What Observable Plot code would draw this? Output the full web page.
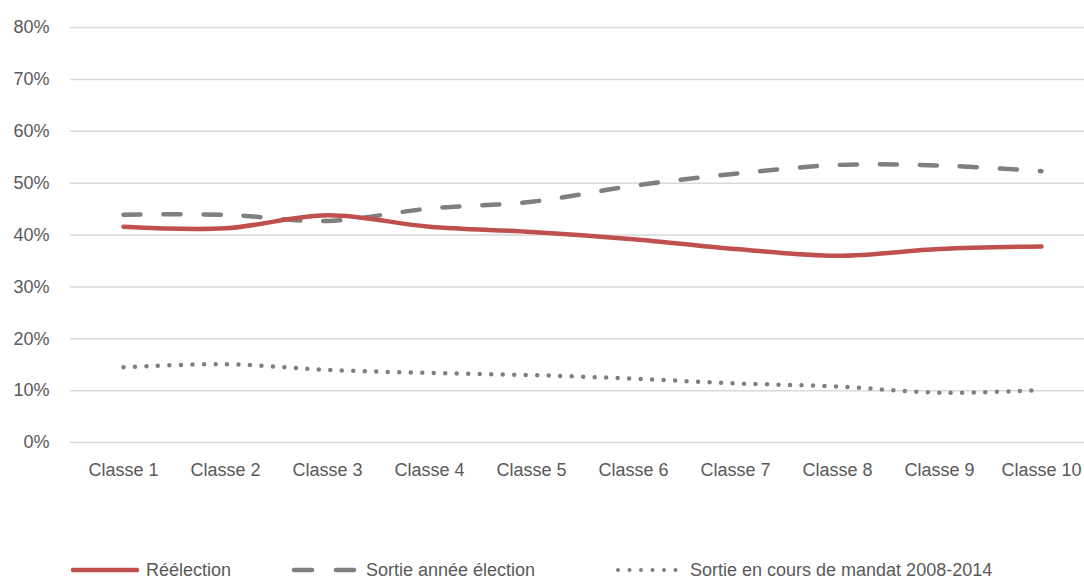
<!DOCTYPE html>
<html>
<head>
<meta charset="utf-8">
<script src="https://cdn.jsdelivr.net/npm/d3@7"></script>
<script src="https://cdn.jsdelivr.net/npm/@observablehq/plot@0.6"></script>
<style>
  body { margin: 0; background: #fff; font-family: "Liberation Sans", Arial, sans-serif; }
  #chart { position: relative; width: 1084px; height: 579px; overflow: hidden; }
  #legend { position: absolute; top: 558px; left: 0; width: 1084px; height: 24px; font-size: 18px; color: #595959; }
  .item { position: absolute; top: 0; display: flex; align-items: center; height: 24px; white-space: nowrap; }
  .item svg { margin-right: 6px; }
</style>
</head>
<body>
<div id="chart"></div>
<script>
const categories = ["Classe 1","Classe 2","Classe 3","Classe 4","Classe 5","Classe 6","Classe 7","Classe 8","Classe 9","Classe 10"];
const reelection = [0.416, 0.413, 0.438, 0.416, 0.406, 0.392, 0.373, 0.360, 0.373, 0.378];
const sortieAnnee = [0.439, 0.439, 0.427, 0.451, 0.464, 0.495, 0.518, 0.535, 0.534, 0.523];
const sortieMandat = [0.145, 0.151, 0.140, 0.134, 0.130, 0.123, 0.114, 0.108, 0.096, 0.101];
const yTicks = [0, 0.1, 0.2, 0.3, 0.4, 0.5, 0.6, 0.7, 0.8];
const seriesNames = ["Réélection", "Sortie année élection", "Sortie en cours de mandat 2008-2014"];

const toRows = (vals) => categories.map((c, i) => ({cat: c, v: vals[i]}));

const chart = Plot.plot({
  width: 1084,
  height: 490,
  marginLeft: 70,
  marginRight: 0,
  marginTop: 27,
  marginBottom: 48,
  style: {fontFamily: "'Liberation Sans', Arial, sans-serif", fontSize: "18px", color: "#595959", background: "#fff"},
  x: {type: "point", domain: categories, range: [120.5, 1043.5], padding: 0, label: null, tickSize: 0, tickPadding: 21},
  y: {domain: [0, 0.8], ticks: yTicks, tickFormat: d3.format(".0%"), label: null, tickSize: 0, tickPadding: 21},
  marks: [
    Plot.ruleY(yTicks, {stroke: "#d9d9d9", strokeWidth: 1.5}),
    Plot.axisX({tickSize: 0, tickPadding: 21, fill: "#595959"}),
    Plot.axisY({ticks: yTicks, tickFormat: d3.format(".0%"), tickSize: 0, tickPadding: 21, fill: "#595959"}),
    Plot.line(toRows(sortieMandat), {x: "cat", y: "v", stroke: "#7f7f7f", strokeWidth: 4.5, strokeDasharray: "0,11.5", strokeLinecap: "round", curve: "catmull-rom"}),
    Plot.line(toRows(sortieAnnee), {x: "cat", y: "v", stroke: "#7f7f7f", strokeWidth: 4.5, strokeDasharray: "17,23", strokeLinecap: "round", curve: "catmull-rom"}),
    Plot.line(toRows(reelection), {x: "cat", y: "v", stroke: "#c0504d", strokeWidth: 4.5, strokeLinecap: "round", curve: "catmull-rom"})
  ]
});
document.getElementById("chart").appendChild(chart);

const legend = document.createElement("div");
legend.id = "legend";
legend.innerHTML = `
  <div class="item" style="left:70px"><svg width="70" height="10"><line x1="3" y1="5" x2="67" y2="5" stroke="#c0504d" stroke-width="4.5" stroke-linecap="round"/></svg>${seriesNames[0]}</div>
  <div class="item" style="left:290px"><svg width="70" height="10"><line x1="4" y1="5" x2="67" y2="5" stroke="#7f7f7f" stroke-width="4.5" stroke-dasharray="18,24" stroke-linecap="round"/></svg>${seriesNames[1]}</div>
  <div class="item" style="left:614px"><svg width="70" height="10"><line x1="4" y1="5" x2="62" y2="5" stroke="#7f7f7f" stroke-width="4" stroke-dasharray="0,11.5" stroke-linecap="round"/></svg>${seriesNames[2]}</div>
`;
document.getElementById("chart").appendChild(legend);
</script>
</body>
</html>
